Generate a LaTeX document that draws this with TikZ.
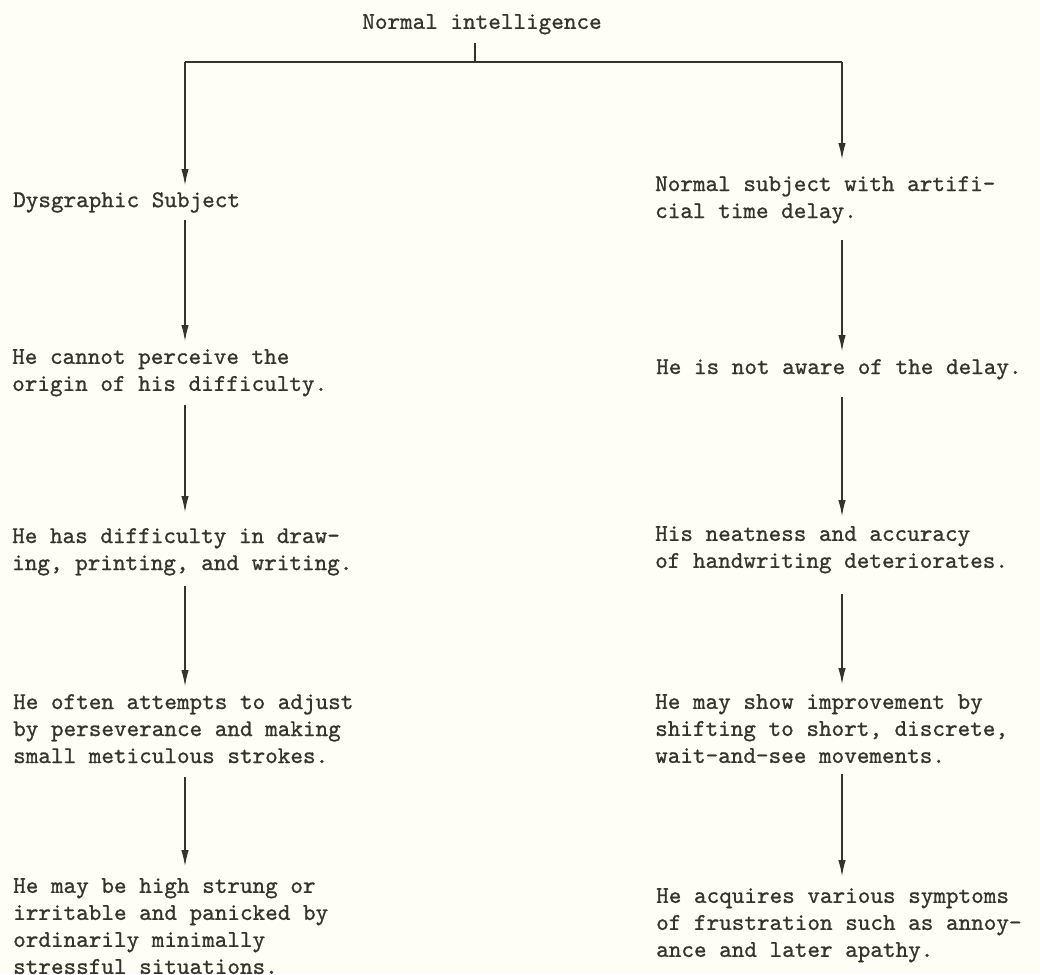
\documentclass[tikz,border=0pt]{standalone}
\usepackage{fontspec}
\newfontfamily\typew{lmmono10-regular}[Extension=.otf, FakeBold=0.9]
\usetikzlibrary{arrows.meta}
\definecolor{ink}{HTML}{34342A}
\definecolor{paper}{HTML}{FFFEF6}
\begin{document}
\begin{tikzpicture}[x=1pt,y=-1pt,
  txt/.style={anchor=north west, inner sep=0pt, align=left, text=ink,
    font=\typew\fontsize{24}{27}\selectfont},
  ttl/.style={anchor=north, inner sep=0pt, text=ink,
    font=\typew\fontsize{24}{27}\selectfont},
  link/.style={draw=ink, line width=1.9pt},
  arr/.style={draw=ink, line width=1.9pt, -{Latex[length=17pt,width=7.5pt]}}]
\fill[paper] (0,0) rectangle (1040,974);
\useasboundingbox (0,0) rectangle (1040,974);

% title and branch
\node[ttl] (title) at (482,14) {Normal intelligence};
\coordinate (jT) at (475,62);
\coordinate (jL) at (185,62);
\coordinate (jR) at (842,62);
\draw[link, shorten <=8pt] (title.south -| jT) -- (jT);
\draw[link] (jL) -- (jR);

% left column
\node[txt] (L0) at (13,192) {Dysgraphic Subject};
\node[txt] (L1) at (12,349) {He cannot perceive the\\origin of his difficulty.};
\node[txt] (L2) at (12,528) {He has difficulty in draw-\\ing, printing, and writing.};
\node[txt] (L3) at (13,694) {He often attempts to adjust\\by perseverance and making\\small meticulous strokes.};
\node[txt] (L4) at (13,878) {He may be high strung or\\irritable and panicked by\\ordinarily minimally\\stressful situations.};

% right column
\node[txt] (R0) at (655,176) {Normal subject with artifi-\\cial time delay.};
\node[txt] (R1) at (656,359) {He is not aware of the delay.};
\node[txt] (R2) at (655,526) {His neatness and accuracy\\of handwriting deteriorates.};
\node[txt] (R3) at (655,694) {He may show improvement by\\shifting to short, discrete,\\wait-and-see movements.};
\node[txt] (R4) at (656,888) {He acquires various symptoms\\of frustration such as annoy-\\ance and later apathy.};

% left arrows
\draw[arr, shorten >=6pt] (jL) -- (L0.north -| jL);
\draw[arr, shorten <=7pt, shorten >=7pt] (L0.south -| jL) -- (L1.north -| jL);
\draw[arr, shorten <=8pt, shorten >=15pt] (L1.south -| jL) -- (L2.north -| jL);
\draw[arr, shorten <=10pt, shorten >=7pt] (L2.south -| jL) -- (L3.north -| jL);
\draw[arr, shorten <=14pt, shorten >=11pt] (L3.south -| jL) -- (L4.north -| jL);

% right arrows
\draw[arr, shorten >=16pt] (jR) -- (R0.north -| jR);
\draw[arr, shorten <=16pt, shorten >=7pt] (R0.south -| jR) -- (R1.north -| jR);
\draw[arr, shorten <=17pt, shorten >=9pt] (R1.south -| jR) -- (R2.north -| jR);
\draw[arr, shorten <=20pt, shorten >=9pt] (R2.south -| jR) -- (R3.north -| jR);
\draw[arr, shorten <=11pt, shorten >=11pt] (R3.south -| jR) -- (R4.north -| jR);
\end{tikzpicture}
\end{document}
